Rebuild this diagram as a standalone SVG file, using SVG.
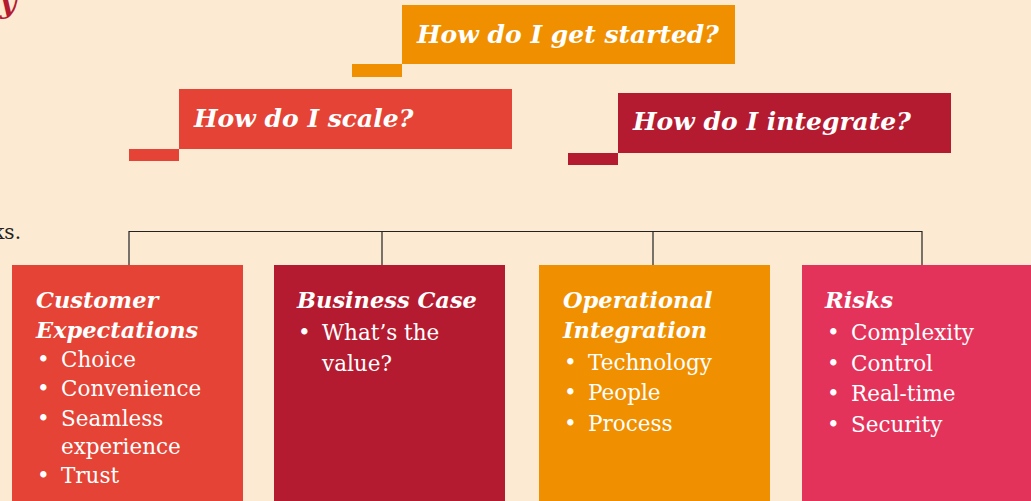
<svg xmlns="http://www.w3.org/2000/svg" width="1031" height="501" viewBox="0 0 1031 501">
<style>
.q{font-family:"DejaVu Serif","Liberation Serif",serif;font-weight:bold;font-style:italic;font-size:25px;fill:#fff}
.h{font-family:"DejaVu Serif","Liberation Serif",serif;font-weight:bold;font-style:italic;font-size:22.5px;fill:#fff}
.b{font-family:"DejaVu Serif","Liberation Serif",serif;font-size:21.5px;fill:#fff}
.conn{stroke:#222;stroke-width:1.2;fill:none}
</style>
<rect width="1031" height="501" fill="#FDEAD3"/>
<text x="0" y="13" style="font-family:'DejaVu Serif',serif;font-weight:bold;font-style:italic;font-size:28px;fill:#B51B30">y</text>
<text x="21" y="239" text-anchor="end" style="font-family:'DejaVu Serif',serif;font-size:20px;fill:#222">ks.</text>
<g id="q-started">
<rect x="352" y="64" width="50" height="13" fill="#F09000"/>
<rect x="402" y="5" width="333" height="59" fill="#F09000"/>
<text class="q" x="417" y="43">How do I get started?</text>
</g>
<g id="q-scale">
<rect x="129" y="149" width="50" height="12" fill="#E44335"/>
<rect x="179" y="89" width="333" height="60" fill="#E44335"/>
<text class="q" x="194" y="127">How do I scale?</text>
</g>
<g id="q-integrate">
<rect x="568" y="153" width="50" height="12" fill="#B51B30"/>
<rect x="618" y="93" width="333" height="60" fill="#B51B30"/>
<text class="q" x="633" y="130">How do I integrate?</text>
</g>
<g id="connectors">
<path class="conn" d="M129,231.5H922M129,231V265M382,231V265M653,231V265M922,231V265"/>
</g>
<g id="customer">
<rect x="12" y="265" width="231" height="236" fill="#E44335"/>
<text class="h" x="36" y="308">Customer</text>
<text class="h" x="36" y="338">Expectations</text>
<text class="b"><tspan x="37" y="367">•</tspan><tspan x="61" y="367">Choice</tspan><tspan x="37" y="396">•</tspan><tspan x="61" y="396">Convenience</tspan><tspan x="37" y="426">•</tspan><tspan x="61" y="426">Seamless</tspan><tspan x="61" y="454">experience</tspan><tspan x="37" y="483">•</tspan><tspan x="61" y="483">Trust</tspan></text>
</g>
<g id="business">
<rect x="274" y="265" width="231" height="236" fill="#B51B30"/>
<text class="h" x="297" y="308">Business Case</text>
<text class="b"><tspan x="298" y="340">•</tspan><tspan x="322" y="340">What’s the</tspan><tspan x="322" y="371">value?</tspan></text>
</g>
<g id="operational">
<rect x="539" y="265" width="231" height="236" fill="#F09000"/>
<text class="h" x="563" y="308">Operational</text>
<text class="h" x="563" y="338">Integration</text>
<text class="b"><tspan x="564" y="370">•</tspan><tspan x="588" y="370">Technology</tspan><tspan x="564" y="400">•</tspan><tspan x="588" y="400">People</tspan><tspan x="564" y="431">•</tspan><tspan x="588" y="431">Process</tspan></text>
</g>
<g id="risks">
<rect x="802" y="265" width="229" height="236" fill="#E4335A"/>
<text class="h" x="825" y="308">Risks</text>
<text class="b"><tspan x="827" y="340">•</tspan><tspan x="851" y="340">Complexity</tspan><tspan x="827" y="371">•</tspan><tspan x="851" y="371">Control</tspan><tspan x="827" y="401">•</tspan><tspan x="851" y="401">Real-time</tspan><tspan x="827" y="432">•</tspan><tspan x="851" y="432">Security</tspan></text>
</g>
</svg>
